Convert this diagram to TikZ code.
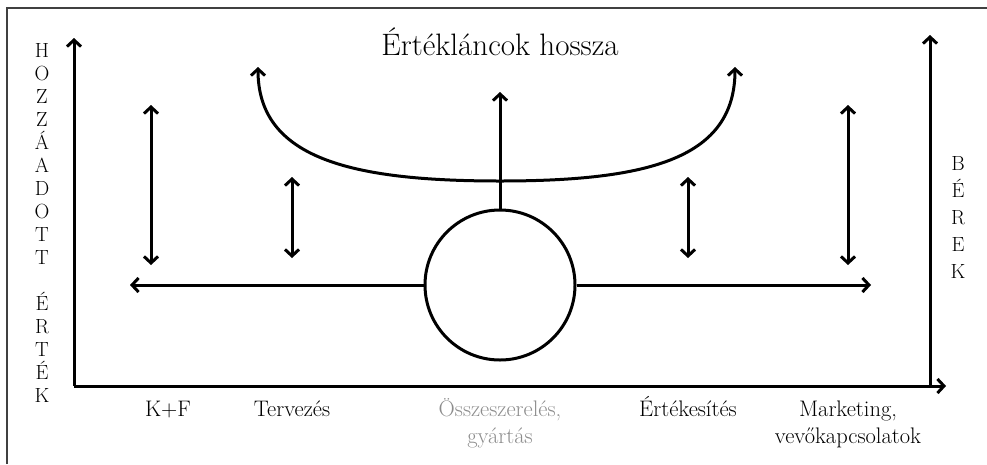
\documentclass[tikz,border=0pt]{standalone}
\usepackage{fontspec}
\usetikzlibrary{arrows.meta}
\begin{document}
\begin{tikzpicture}[x=1pt,y=-1pt,
  arr/.style={line width=3pt,-{Straight Barb[length=6.5pt,width=14pt]}},
  darr/.style={line width=3pt,{Straight Barb[length=6.5pt,width=14pt]}-{Straight Barb[length=6.5pt,width=14pt]}},
  axis/.style={line width=3pt,-{Straight Barb[length=6.5pt,width=14pt]}},
  lbl/.style={anchor=base,inner sep=0pt,font=\fontsize{22.5}{27}\selectfont},
  vlet/.style={anchor=base,inner sep=0pt,font=\fontsize{20.5}{22}\selectfont},
  frame/.style={draw=black!75,line width=1.3pt}]
\useasboundingbox (0,0) rectangle (987,464);
% frame
\draw[frame] (7,464) -- (7,8) -- (987,8);
% axes
\coordinate (o) at (74,386);
\coordinate (ytip) at (74,38);
\coordinate (xtip) at (946,386);
\coordinate (rbot) at (930,386);
\coordinate (rtip) at (930,35);
\draw[axis] (o) -- (ytip);
\draw[axis] (o) -- (xtip);
\draw[axis] (rbot) -- (rtip);
% title
\node[anchor=base,inner sep=0pt,font=\fontsize{31}{34}\selectfont] (title) at (500,55) {Értékláncok hossza};
% circle
\node[draw,circle,line width=3pt,minimum size=150pt,inner sep=0pt] (c) at (500,285) {};
\coordinate (hl) at (130,285);
\coordinate (hr) at (871,285);
\draw[arr] (c.west) -- (hl);
\draw[arr] (c.east) -- (hr);
\coordinate (ctip) at (500,92);
\draw[arr] (c.north) -- (ctip);
% curve
\coordinate (cl) at (258,67);
\coordinate (cm) at (500,181);
\coordinate (cr) at (735,67);
\draw[darr] (cl) .. controls (258,158) and (350,181) .. (cm) .. controls (650,181) and (735,158) .. (cr);
% double arrows
\coordinate (a1t) at (151,105); \coordinate (a1b) at (151,265);
\coordinate (a2t) at (292,177); \coordinate (a2b) at (292,258);
\coordinate (a3t) at (688,177); \coordinate (a3b) at (688,258);
\coordinate (a4t) at (848,105); \coordinate (a4b) at (848,265);
\draw[darr] (a1t) -- (a1b);
\draw[darr] (a2t) -- (a2b);
\draw[darr] (a3t) -- (a3b);
\draw[darr] (a4t) -- (a4b);
% labels
\node[lbl] (kf) at (168,416) {K+F};
\node[lbl] (terv) at (292,416) {Tervezés};
\node[lbl,text=black!45] (ossz) at (500,416) {\begin{tabular}[t]{@{}c@{}}Összeszerelés,\\gyártás\end{tabular}};
\node[lbl] (ert) at (688,416) {Értékesítés};
\node[lbl] (mark) at (848,416) {\begin{tabular}[t]{@{}c@{}}Marketing,\\vevőkapcsolatok\end{tabular}};
% left vertical text
\foreach \l [count=\i] in {H,O,Z,Z,Á,A,D,O,T,T}
  \node[vlet] (hz\i) at (42,{50+(\i-1)*23+7}) {\l};
\foreach \l [count=\i] in {É,R,T,É,K}
  \node[vlet] (er\i) at (42,{303+(\i-1)*23+7}) {\l};
% right vertical text
\foreach \l [count=\i] in {B,É,R,E,K}
  \node[vlet] (br\i) at (958,{163+(\i-1)*27+7}) {\l};
\end{tikzpicture}
\end{document}
